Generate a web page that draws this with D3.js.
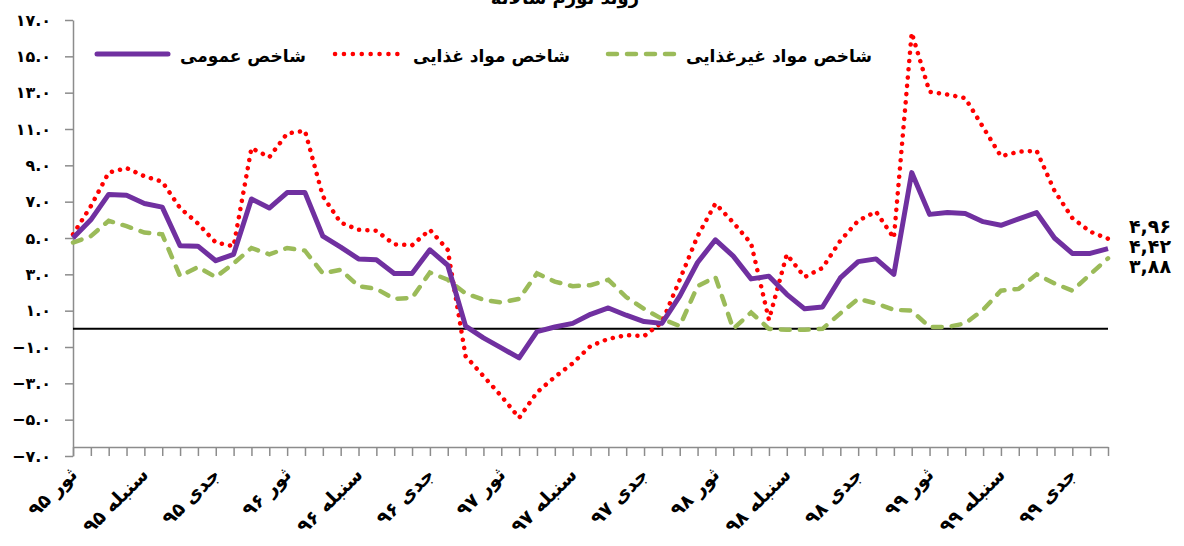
<!DOCTYPE html>
<html>
<head>
<meta charset="utf-8">
<script src="https://cdn.jsdelivr.net/npm/d3@7"></script>
<style>
body { margin: 0; background: #fff; }
text { font-family: "DejaVu Sans", sans-serif; font-weight: bold; fill: #000; }
</style>
</head>
<body>
<script>
// month names and years (Afghan solar calendar)
var months = ["حمل","ثور","جوزا","سرطان","اسد","سنبله","میزان","عقرب","قوس","جدی","دلو","حوت"];
var years = ["۹۵","۹۶","۹۷","۹۸","۹۹"];
var categories = [];
years.forEach(function(yr){
    months.forEach(function(m){ categories.push(m + " " + yr); });
});
categories = categories.slice(1); // series starts at ثور ۹۵

var general = [5.0,6.0,7.4,7.35,6.9,6.7,4.57,4.55,3.75,4.1,
    7.15,6.65,7.5,7.5,5.1,4.5,3.85,3.8,3.05,3.05,
    4.35,3.5,0.15,-0.5,-1.05,-1.6,-0.15,0.1,0.3,0.8,
    1.15,0.75,0.4,0.3,1.8,3.65,4.9,4.0,2.75,2.9,
    1.9,1.1,1.2,2.8,3.7,3.85,3.0,8.6,6.3,6.4,
    6.35,5.9,5.7,6.05,6.4,5.0,4.15,4.15,4.42];
var food = [5.2,6.75,8.6,8.85,8.4,8.1,6.65,5.8,4.75,4.55,
    9.95,9.45,10.75,10.9,7.3,5.85,5.45,5.4,4.65,4.6,
    5.45,4.35,-1.5,-2.6,-3.7,-4.9,-3.5,-2.65,-1.9,-0.95,
    -0.55,-0.35,-0.4,0.35,2.7,5.1,6.9,5.85,4.7,0.5,
    4.1,2.85,3.35,4.85,5.95,6.45,5.0,16.3,13.05,12.9,
    12.7,11.1,9.5,9.75,9.8,7.6,6.1,5.35,4.96];
var nonfood = [4.75,5.1,5.95,5.65,5.3,5.2,2.9,3.4,2.85,3.6,
    4.45,4.1,4.45,4.3,3.05,3.25,2.35,2.2,1.65,1.7,
    3.1,2.7,1.95,1.6,1.45,1.65,3.05,2.6,2.35,2.4,
    2.7,1.75,1.1,0.55,0.15,2.35,2.85,0.0,0.9,0.0,
    -0.05,-0.05,0.0,0.85,1.65,1.4,1.05,1.0,0.1,0.1,
    0.3,1.05,2.1,2.2,3.0,2.5,2.1,3.0,3.88];
var yTicks = [-7,-5,-3,-1,1,3,5,7,9,11,13,15,17];
var lastLabels = ["۴,۹۶","۴,۴۲","۳,۸۸"];
var seriesNames = ["شاخص عمومی","شاخص مواد غذایی","شاخص مواد غیرغذایی"];
var title = "روند تورم سالانه";

var faDigits = "۰۱۲۳۴۵۶۷۸۹";
function fa(s){ return String(s).replace(/[0-9]/g, function(c){ return faDigits[+c]; }); }

var W = 1184, H = 546;
var svg = d3.select("body").append("svg").attr("width", W).attr("height", H);

var x = d3.scaleLinear().domain([0, categories.length - 1]).range([73, 1108]);
var y = d3.scaleLinear().domain([-7, 17]).range([456, 20]);

// title (mostly cut off at the top in the original)
svg.append("text").attr("x", 565).attr("y", 4).attr("text-anchor", "middle")
    .style("font-size", "18px").text(title);

// y axis
var yAxis = svg.append("g").attr("transform", "translate(73,0)")
    .call(d3.axisLeft(y).tickValues(yTicks).tickSize(8).tickSizeOuter(0).tickPadding(14)
        .tickFormat(function(d){ return fa(d3.format(".1f")(d)); }));
yAxis.select(".domain").attr("stroke", "#8c8c8c").attr("stroke-width", 1.5);
yAxis.selectAll(".tick line").attr("stroke", "#8c8c8c").attr("stroke-width", 1.5);
yAxis.selectAll("text").style("font-size", "16px").style("font-family", "DejaVu Sans").style("font-weight", "bold");

// x axis
var xAxisY = y(-7) - 9;
var xAxis = svg.append("g").attr("transform", "translate(0," + xAxisY + ")")
    .call(d3.axisBottom(x).tickValues(d3.range(categories.length)).tickSize(9).tickSizeOuter(0)
        .tickFormat(function(d){ return d % 4 === 0 ? categories[d] : ""; }));
xAxis.select(".domain").attr("stroke", "#8c8c8c").attr("stroke-width", 1.5);
xAxis.selectAll(".tick line").attr("stroke", "#8c8c8c").attr("stroke-width", 1.5);
xAxis.selectAll("text")
    .style("font-size", "19px").style("font-family", "DejaVu Sans").style("font-weight", "bold")
    .attr("text-anchor", "end")
    .attr("transform", "translate(0,24) rotate(-45)")
    .attr("dy", "0.35em").attr("y", 0);

// zero line
svg.append("line").attr("x1", x(0)).attr("x2", x(categories.length - 1))
    .attr("y1", y(0)).attr("y2", y(0)).attr("stroke", "#000").attr("stroke-width", 2);

var line = d3.line().x(function(d, i){ return x(i); }).y(function(d){ return y(d); });

svg.append("path").datum(nonfood).attr("d", line).attr("fill", "none")
    .attr("stroke", "#9BBB59").attr("stroke-width", 4.5)
    .attr("stroke-dasharray", "9 10").attr("stroke-linecap", "round");
svg.append("path").datum(food).attr("d", line).attr("fill", "none")
    .attr("stroke", "#FF0000").attr("stroke-width", 4.5)
    .attr("stroke-dasharray", "0.1 8.2").attr("stroke-linecap", "round");
svg.append("path").datum(general).attr("d", line).attr("fill", "none")
    .attr("stroke", "#7030A0").attr("stroke-width", 5).attr("stroke-linejoin", "round");

// end value labels
svg.selectAll(".endlab").data(lastLabels).enter().append("text")
    .attr("class", "endlab")
    .attr("x", 1129).attr("y", function(d, i){ return 233 + i * 20; })
    .style("font-size", "19px").text(function(d){ return d; });

// legend
var legend = [
    {x1: 97, x2: 168, tx: 180, color: "#7030A0", dash: null},
    {x1: 335, x2: 398, tx: 413, color: "#FF0000", dash: "0.1 8.8"},
    {x1: 608, x2: 675, tx: 686, color: "#9BBB59", dash: "9 10"}
];
legend.forEach(function(l, i){
    var ln = svg.append("line").attr("x1", l.x1).attr("x2", l.x2).attr("y1", 54).attr("y2", 54)
        .attr("stroke", l.color).attr("stroke-width", i === 0 ? 5 : 4.5).attr("stroke-linecap", "round");
    if (l.dash) ln.attr("stroke-dasharray", l.dash);
    svg.append("text").attr("x", l.tx).attr("y", 62).style("font-size", "17px").text(seriesNames[i]);
});
</script>
</body>
</html>
